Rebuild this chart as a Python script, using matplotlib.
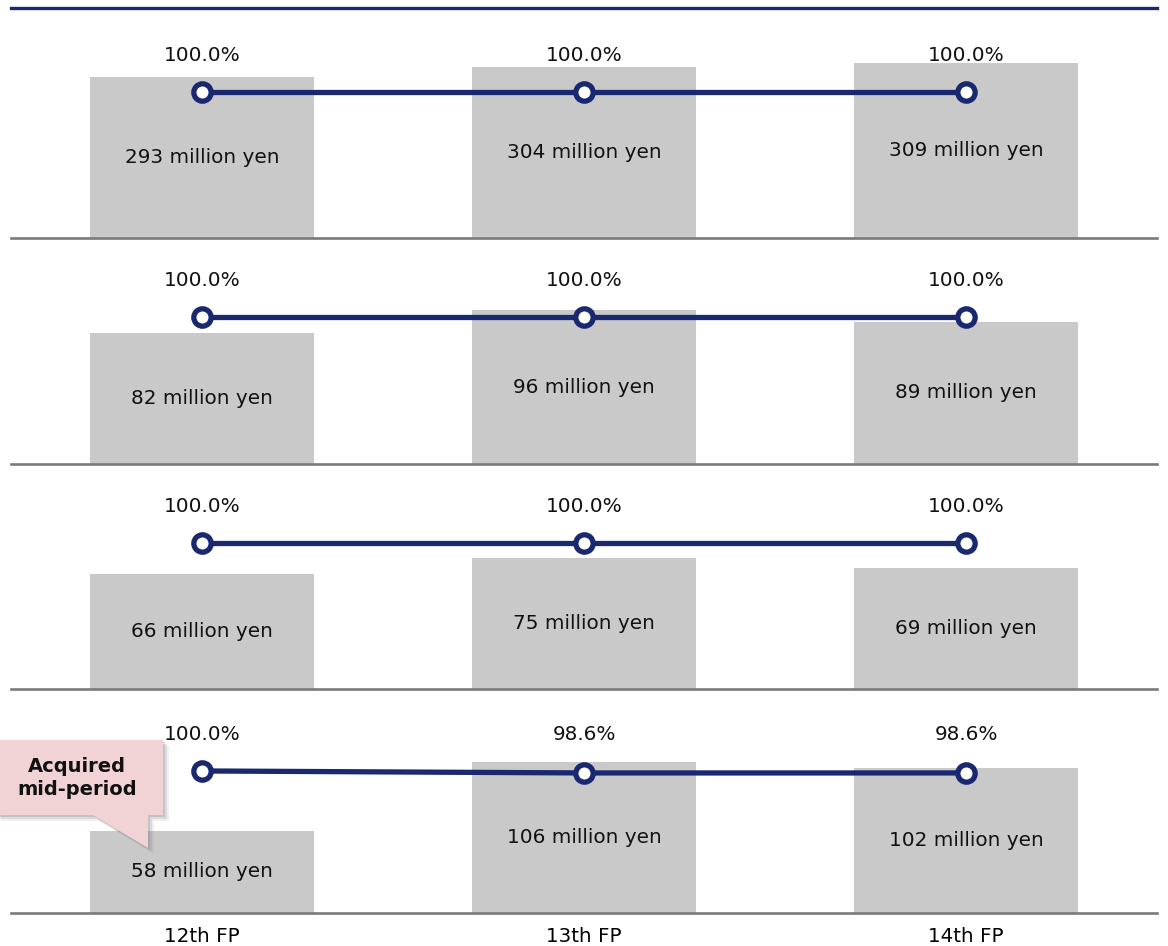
import matplotlib
matplotlib.use("Agg")
import matplotlib.pyplot as plt
from matplotlib.patches import Polygon

periods = ["12th FP", "13th FP", "14th FP"]
revenue_p1 = [293, 304, 309]
revenue_p2 = [82, 96, 89]
revenue_p3 = [66, 75, 69]
revenue_p4 = [58, 106, 102]
occupancy_p1 = [100.0, 100.0, 100.0]
occupancy_p2 = [100.0, 100.0, 100.0]
occupancy_p3 = [100.0, 100.0, 100.0]
occupancy_p4 = [100.0, 98.6, 98.6]
callout_text = "Acquired\nmid-period"

revenues = [revenue_p1, revenue_p2, revenue_p3, revenue_p4]
occupancies = [occupancy_p1, occupancy_p2, occupancy_p3, occupancy_p4]

W, H = 1168, 946
fig = plt.figure(figsize=(W / 100, H / 100), dpi=100)
plt.rcParams['font.family'] = ['DejaVu Sans']

NAVY = "#1a2870"
BAR = "#c9c9c9"
GRID = "#7a7a7a"

# panel pixel extents (top, bottom) and axis limits (layout)
panels = [(8, 238), (238, 464), (464, 689), (689, 913)]
bar_ylims = [(109, 371.9), (0, 141.25), (0, 128.6), (0, 157.7)]
line_ylims = [(0, 157.5), (0, 153.7), (0, 154.1), (0, 157.7)]

x = list(range(len(periods)))
left_px, right_px = 11, 1157

for i, ((top, bot), rev, occ) in enumerate(zip(panels, revenues, occupancies)):
    ax = fig.add_axes([left_px / W, 1 - bot / H, (right_px - left_px) / W, (bot - top) / H],
                      zorder=10 - i)
    ax.patch.set_visible(False)
    ax.bar(x, rev, width=0.586, color=BAR, zorder=1)
    ax.set_xlim(-0.5, 2.5)
    ax.set_ylim(*bar_ylims[i])
    for s in ["left", "right", "top"]:
        ax.spines[s].set_visible(False)
    ax.spines["bottom"].set_color(GRID)
    ax.spines["bottom"].set_linewidth(1.9)
    ax.spines["bottom"].set_zorder(5)
    if i == 0:
        ax.spines["top"].set_visible(True)
        ax.spines["top"].set_color(NAVY)
        ax.spines["top"].set_linewidth(2.4)
    ax.set_yticks([])
    ax.tick_params(axis="x", length=0, labelsize=14.3, pad=10)
    ax.set_xticks(x)
    if i == 3:
        ax.set_xticklabels(periods)
    else:
        ax.set_xticklabels([])
    y0 = bar_ylims[i][0]
    for xi, v in zip(x, rev):
        ax.text(xi, (y0 + v) / 2, f"{v} million yen", ha="center", va="center",
                fontsize=14.4, color="#111111", zorder=3)

    ax2 = ax.twinx()
    ax2.patch.set_visible(False)
    ax2.set_ylim(*line_ylims[i])
    ax2.set_xlim(-0.5, 2.5)
    ax2.axis("off")
    ax2.plot(x, occ, color=NAVY, lw=3.8, marker="o", ms=12.5, mfc="white",
             mec=NAVY, mew=3.8, zorder=4, solid_capstyle="butt")
    ytop = max(occ)
    for xi, o in zip(x, occ):
        ax2.annotate(f"{o:.1f}%", (xi, ytop), xytext=(0, 26.5), textcoords="offset points",
                     ha="center", va="center", fontsize=14.4, color="#111111",
                     annotation_clip=False)


def px(pts):
    return [(px_x / W, 1 - px_y / H) for px_x, px_y in pts]

callout = [(-5, 740), (163, 740), (163, 815), (148, 815), (148, 848), (93, 815), (-5, 815)]
for k, a in [(6, 0.12), (4, 0.18), (2, 0.25)]:
    shadow = [(p + k, q + k) for p, q in callout]
    fig.patches.append(Polygon(px(shadow), closed=True, transform=fig.transFigure,
                               facecolor="#808080", alpha=a, edgecolor="none", zorder=20))
fig.patches.append(Polygon(px(callout), closed=True, transform=fig.transFigure,
                           facecolor="#f1d3d5", edgecolor="none", zorder=21))
fig.text(77 / W, 1 - 778 / H, callout_text, ha="center", va="center", fontsize=14,
         fontweight="bold", color="#111111", linespacing=1.25, zorder=22)

fig.savefig("out.png", dpi=100)
